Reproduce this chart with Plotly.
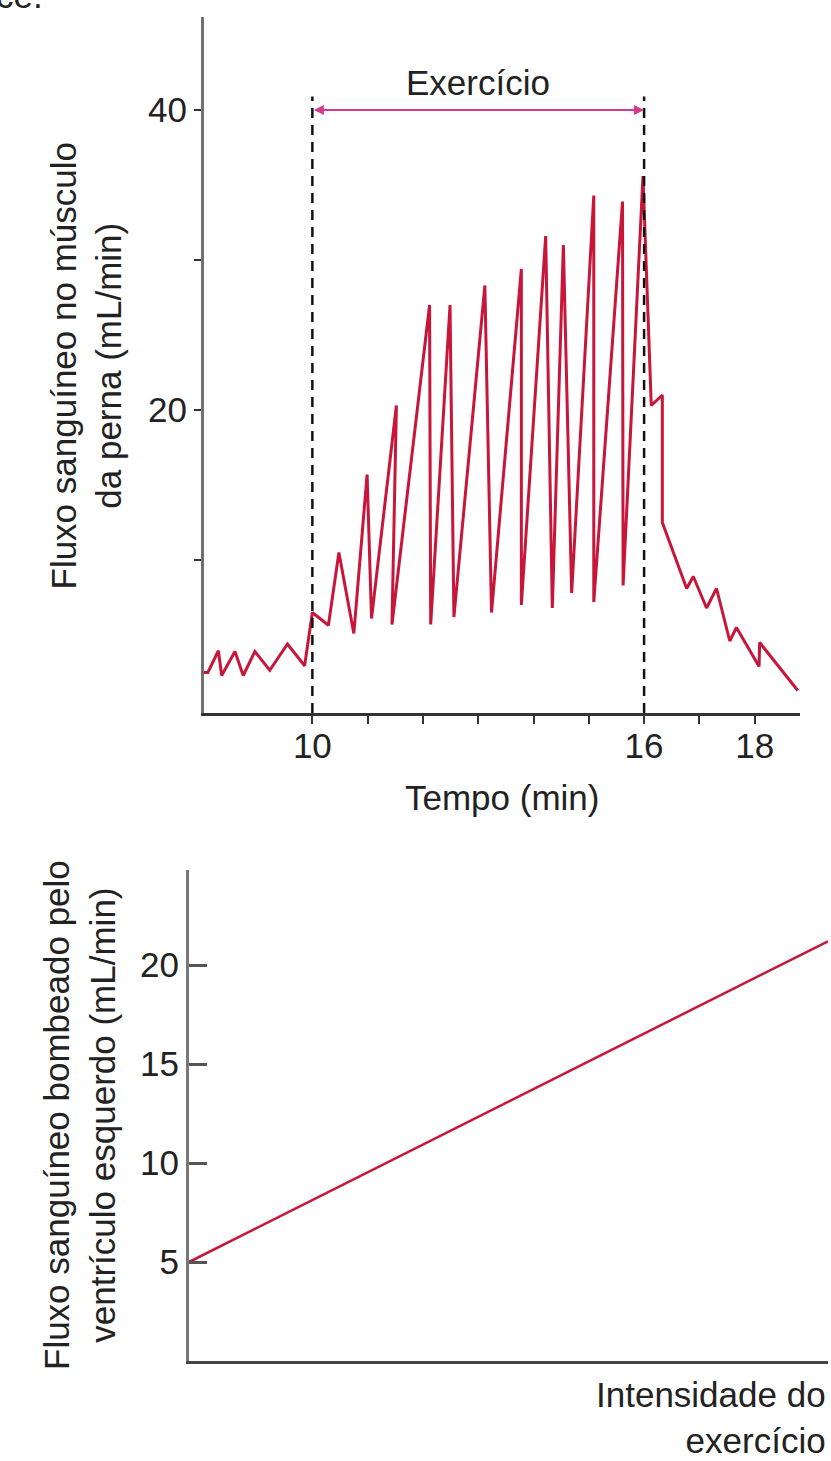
import plotly.graph_objects as go

# top chart: leg muscle blood flow over time
time_min = [8.02, 8.11, 8.30, 8.36, 8.60, 8.75, 8.96, 9.23, 9.55, 9.86,
            10.00, 10.29, 10.48, 10.75, 10.99, 11.07, 11.52, 11.44, 12.12, 12.14,
            12.49, 12.56, 13.12, 13.24, 13.78, 13.78, 14.22, 14.34, 14.54, 14.69,
            15.09, 15.09, 15.61, 15.62, 15.98, 16.13, 16.33, 16.33, 16.77, 16.89,
            17.13, 17.31, 17.55, 17.67, 18.08, 18.09, 18.78]
leg_flow = [2.5, 2.5, 3.95, 2.3, 3.9, 2.3, 3.9, 2.65, 4.4, 2.95,
            6.5, 5.65, 10.5, 5.1, 15.7, 6.1, 20.3, 5.7, 27.0, 5.7,
            27.0, 6.2, 28.3, 6.5, 29.4, 7.0, 31.6, 6.8, 31.0, 7.8,
            34.3, 7.2, 33.9, 8.3, 35.6, 20.3, 21.0, 12.5, 8.1, 8.9,
            6.8, 8.1, 4.6, 5.5, 2.9, 4.5, 1.3]
exercise_start = 10
exercise_end = 16
x_tickvals = [10, 11, 12, 13, 14, 15, 16, 17, 18]
x_ticktext = ['10', '', '', '', '', '', '16', '', '18']
y_tickvals = [10, 20, 30, 40]
y_ticktext = ['', '20', '', '40']

# bottom chart: left ventricle output vs exercise intensity
intensity = [0, 1]
lv_output = [5, 21.2]
y2_tickvals = [0, 5, 10, 15, 20]
y2_ticktext = ['', '5', '10', '15', '20']

RED = '#c8163a'
MAG = '#d6388c'
INK = '#222222'
W, H = 831, 1461

fig = go.Figure()

fig.add_trace(go.Scatter(x=time_min, y=leg_flow, mode='lines',
                         line=dict(color=RED, width=3),
                         xaxis='x', yaxis='y', hoverinfo='skip'))

for t in (exercise_start, exercise_end):
    fig.add_trace(go.Scatter(x=[t, t], y=[-0.2, 40.9], mode='lines',
                             line=dict(color='#111111', width=2.5, dash='10px,7px'),
                             xaxis='x', yaxis='y', hoverinfo='skip'))

fig.add_trace(go.Scatter(x=intensity, y=lv_output, mode='lines',
                         line=dict(color=RED, width=2.5),
                         xaxis='x2', yaxis='y2', hoverinfo='skip'))

fig.update_layout(
    width=W, height=H,
    margin=dict(l=0, r=0, t=0, b=0),
    paper_bgcolor='white', plot_bgcolor='white',
    showlegend=False,
    font=dict(family='Liberation Sans, Arial, sans-serif', size=35, color=INK),
    xaxis=dict(
        domain=[204 / W, 800 / W], anchor='y',
        range=[8.04, 18.82],
        showline=True, linecolor='#333333', linewidth=2.5,
        ticks='outside', ticklen=8, tickwidth=2, tickcolor='#333333',
        tickvals=x_tickvals, ticktext=x_ticktext, ticklabelstandoff=-8,
        showgrid=False, zeroline=False, fixedrange=True,
    ),
    yaxis=dict(
        domain=[1 - 713 / H, 1 - 17 / H], anchor='x',
        range=[-0.2, 46.2],
        showline=True, linecolor='#707070', linewidth=3,
        ticks='outside', ticklen=7, tickwidth=2, tickcolor='#333333',
        tickvals=y_tickvals, ticktext=y_ticktext,
        showgrid=False, zeroline=False, fixedrange=True,
    ),
    xaxis2=dict(
        domain=[189 / W, 828 / W], anchor='y2',
        range=[0, 1],
        showline=True, linecolor='#444444', linewidth=2.5,
        ticks='', showticklabels=False,
        showgrid=False, zeroline=False, fixedrange=True,
    ),
    yaxis2=dict(
        domain=[1 - 1361 / H, 1 - 870 / H], anchor='x2',
        range=[0, 24.8],
        showline=True, linecolor='#777777', linewidth=3,
        ticks='inside', ticklen=18, tickwidth=2.5, tickcolor='#555555',
        tickvals=y2_tickvals, ticktext=y2_ticktext,
        showgrid=False, zeroline=False, fixedrange=True,
    ),
)

# exercise period arrow and label
fig.add_annotation(x=exercise_end, y=40, ax=exercise_start, ay=40,
                   xref='x', yref='y', axref='x', ayref='y',
                   text='', showarrow=True, arrowside='end+start',
                   arrowhead=2, startarrowhead=2, arrowsize=1, startarrowsize=1,
                   arrowwidth=2, arrowcolor=MAG, standoff=0, startstandoff=0)
fig.add_annotation(x=(exercise_start + exercise_end) / 2, y=41.8, xref='x', yref='y',
                   text='Exercício', showarrow=False, yanchor='middle')

# axis titles
fig.add_annotation(x=502 / W, y=1 - 797 / H, xref='paper', yref='paper',
                   text='Tempo (min)', showarrow=False, yanchor='middle')
fig.add_annotation(x=85.5 / W, y=1 - 366 / H, xref='paper', yref='paper',
                   text='Fluxo sanguíneo no músculo<br>da perna (mL/min)',
                   textangle=-90, showarrow=False, xanchor='center', yanchor='middle')
fig.add_annotation(x=79 / W, y=1 - 1115 / H, xref='paper', yref='paper',
                   text='Fluxo sanguíneo bombeado pelo<br>ventrículo esquerdo (mL/min)',
                   textangle=-90, showarrow=False, xanchor='center', yanchor='middle')
fig.add_annotation(x=828 / W, y=1 - 1417 / H, xref='paper', yref='paper',
                   text='Intensidade do<br>exercício', align='right',
                   showarrow=False, xanchor='right', yanchor='middle')

# cut-off text from the page above (also cut in the original)
fig.add_annotation(x=-6 / W, y=1 - 17 / H, xref='paper', yref='paper',
                   text='ce.', showarrow=False, xanchor='left', yanchor='bottom')

# page body margin would push the fixed-size figure off the window
fig.write_html('out.html', config={'displayModeBar': False},
               post_script="document.body.style.margin='0';document.body.style.overflow='hidden';")
